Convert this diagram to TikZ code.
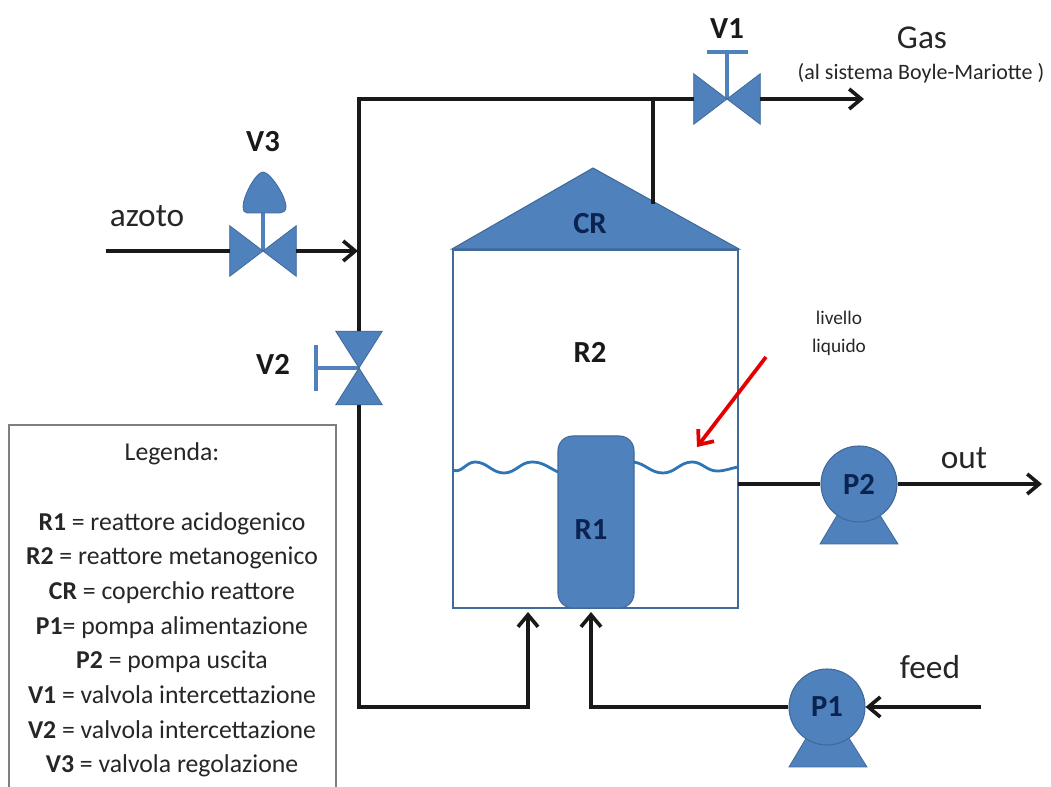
\documentclass[tikz,border=0pt]{standalone}
\usepackage{xcolor}
\usepackage{fontspec}
\setmainfont{Carlito}
\usetikzlibrary{arrows.meta}
\definecolor{pidblue}{HTML}{4F81BD}
\definecolor{pidedge}{HTML}{41699A}
\definecolor{pidtext}{HTML}{0B2350}
\definecolor{pidwave}{HTML}{2E75B6}
\definecolor{legendgray}{HTML}{7F7F7F}
\definecolor{labelgray}{HTML}{262626}
\tikzset{
  pipe/.style={line width=2.7pt, draw=black!90},
  pipearrow/.style={pipe, -{Straight Barb[length=9pt, width=15pt, line width=2.7pt]}},
  valvebody/.style={fill=pidblue, draw=pidedge, line width=0.6pt, line join=miter},
  valvebox/.style={inner sep=0pt, minimum width=49.5pt, minimum height=37.5pt},
  valveboxv/.style={inner sep=0pt, minimum width=34.5pt, minimum height=54.75pt},
  stem/.style={draw=pidblue, line width=2.6pt},
  pump/.style={circle, fill=pidblue, draw=pidedge, line width=0.8pt, inner sep=0pt, minimum size=57pt, text=pidtext, font=\fontsize{23}{27}\selectfont\bfseries},
  tag/.style={font=\fontsize{23}{27}\selectfont\bfseries, text=black!90, inner sep=0pt},
  intag/.style={font=\fontsize{23}{27}\selectfont\bfseries, text=pidtext, inner sep=0pt},
  streamtag/.style={font=\fontsize{25}{30}\selectfont, text=labelgray, inner sep=0pt},
  legendtext/.style={font=\fontsize{19.3}{26}\selectfont, text=labelgray, align=center, inner sep=0pt}
}
\begin{document}
\begin{tikzpicture}[x=0.75pt, y=-0.75pt]
  \useasboundingbox (0,0) rectangle (1051,787);

  % recipiente
  \node (vessel) [draw=pidedge, line width=1.5pt, fill=white, inner sep=0pt, minimum width=213.75pt, minimum height=268.5pt] at (595.5,429) {};
  \coordinate (apex) at (593,168);
  \draw[fill=pidblue, draw=pidedge, line width=0.8pt] (vessel.north west) -- (apex) -- (vessel.north east) -- cycle;
  \draw[pidwave, line width=2.1pt] (453,470) to[out=-25,in=180] (475,462) to[out=0,in=180] (504,473) to[out=0,in=180] (532,462) to[out=0,in=155] (558,472);
  \draw[pidwave, line width=2.1pt] (634,462) to[out=-10,in=180] (663,473) to[out=0,in=180] (692,462) to[out=0,in=180] (717,471) to[out=0,in=190] (738,467);
  \node (R1) [rounded corners=11pt, fill=pidblue, draw=pidedge, line width=0.8pt, inner sep=0pt, minimum width=57pt, minimum height=129pt] at (596,522) {};

  \node (labCR) [intag] at (590,224) {CR};
  \node (labR2) [tag] at (590,352) {R2};
  \node (labR1) [intag] at (591,530) {R1};

  % valvole
  \node (V1) [valvebox] at (727,99) {};
  \node (V3) [valvebox] at (263,251) {};
  \node (V2) [valveboxv] at (359,368) {};
  \coordinate (V1top) at (727,52);
  \coordinate (V3top) at (263,213);
  \coordinate (V2side) at (316,368);
  \draw[stem] (V1.center) -- (V1top);
  \draw[stem] (707,52) -- (748,52);
  \draw[stem] (V3.center) -- (V3top);
  \draw[stem] (V2.center) -- (V2side);
  \draw[stem] (316,345) -- (316,391);
  \draw[valvebody] (V1.north west) -- (V1.south west) -- (V1.center) -- (V1.north east) -- (V1.south east) -- (V1.center) -- cycle;
  \draw[valvebody] (V3.north west) -- (V3.south west) -- (V3.center) -- (V3.north east) -- (V3.south east) -- (V3.center) -- cycle;
  \draw[valvebody] (V2.north west) -- (V2.north east) -- (V2.center) -- (V2.south west) -- (V2.south east) -- (V2.center) -- cycle;
  \draw[fill=pidblue, draw=pidedge, line width=0.6pt] (263,172) .. controls (270,172) and (286,196) .. (286,207) .. controls (286,211) and (283,213) .. (280,213) -- (247,213) .. controls (244,213) and (243,210) .. (243,207) .. controls (243,196) and (256,172) .. (263,172) -- cycle;

  \node (labV1) [tag] at (727,29) {V1};
  \node (labV2) [tag] at (273,364) {V2};
  \node (labV3) [tag] at (263,142) {V3};

  % pompe
  \draw[fill=pidblue, draw=pidedge, line width=0.6pt] (839,512) -- (820,544) -- (898,544) -- (878,512) -- cycle;
  \draw[fill=pidblue, draw=pidedge, line width=0.6pt] (808,735) -- (789,767) -- (867,767) -- (847,735) -- cycle;
  \node (P2) [pump] at (859,484) {P2};
  \node (P1) [pump] at (827,707) {P1};

  % tubazioni
  \coordinate (gasout) at (864,99);
  \coordinate (topleft) at (359,99);
  \coordinate (tee) at (653,99);
  \coordinate (roofport) at (653,204);
  \coordinate (azotoin) at (106,251);
  \coordinate (merge) at (358,251);
  \coordinate (botleft) at (359,707);
  \coordinate (botright) at (528,707);
  \coordinate (inletA) at (528,612);
  \coordinate (feedturn) at (591,707);
  \coordinate (inletB) at (591,612);
  \coordinate (feedin) at (981,707);
  \coordinate (outlet) at (738,484);
  \coordinate (outend) at (1042,484);

  \draw[pipe] (V2.north) -- (topleft) -- (V1.west);
  \draw[pipearrow] (V1.east) -- (gasout);
  \draw[pipe] (tee) -- (roofport);
  \draw[pipe] (azotoin) -- (V3.west);
  \draw[pipearrow] (V3.east) -- (merge);
  \draw[pipearrow] (V2.south) -- (botleft) -- (botright) -- (inletA);
  \draw[pipearrow] (P1.west) -- (feedturn) -- (inletB);
  \draw[pipearrow] (feedin) -- (P1.east);
  \draw[pipe] (outlet) -- (P2.west);
  \draw[pipearrow] (P2.east) -- (outend);

  % scritte
  \node (labazoto) [streamtag] at (147,216) {azoto};
  \node (labgas) [streamtag] at (922,38) {Gas};
  \node (labsys) [font=\fontsize{16.5}{19}\selectfont, text=labelgray, inner sep=0pt] at (921,73) {(al sistema Boyle-Mariotte )};
  \node (labout) [streamtag] at (964,458) {out};
  \node (labfeed) [streamtag] at (930,667) {feed};
  \node (lablevel) [font=\fontsize{14.5}{21}\selectfont, text=labelgray, align=center, inner sep=0pt] at (839,333) {livello\\liquido};
  \coordinate (leveltip) at (697,447);
  \draw[draw=red!90!black, line width=2.8pt, -{Straight Barb[length=9pt, width=15pt, line width=2.8pt]}] (766,357) -- (leveltip);

  % legenda
  \draw[legendgray, line width=1.6pt] (9,787) -- (9,425) -- (336,425) -- (336,787);
  \node (legendtitle) [legendtext] at (172,454) {Legenda:};
  \node (legendlist) [legendtext, anchor=north] at (172,512) {\textbf{R1} = reattore acidogenico\\
    \textbf{R2} = reattore metanogenico\\
    \textbf{CR} = coperchio reattore\\
    \textbf{P1}= pompa alimentazione\\
    \textbf{P2} = pompa uscita\\
    \textbf{V1} = valvola intercettazione\\
    \textbf{V2} = valvola intercettazione\\
    \textbf{V3} = valvola regolazione};
\end{tikzpicture}
\end{document}
